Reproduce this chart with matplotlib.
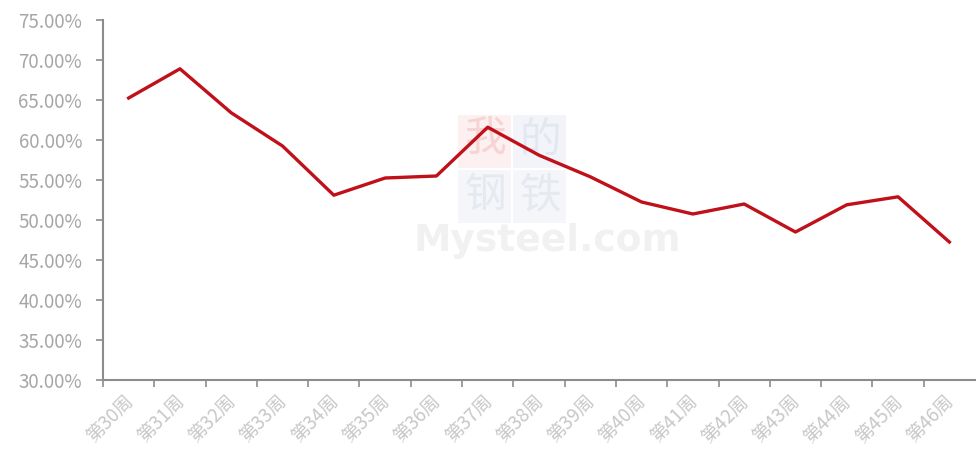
import matplotlib
matplotlib.use("Agg")
import matplotlib.pyplot as plt
import numpy as np
from matplotlib.ticker import FixedLocator, PercentFormatter
from matplotlib.patches import Rectangle
from matplotlib.transforms import ScaledTranslation

plt.rcParams['font.family'] = ['Noto Sans CJK SC', 'DejaVu Sans']

weeks = ["第30周", "第31周", "第32周", "第33周", "第34周", "第35周", "第36周", "第37周", "第38周",
         "第39周", "第40周", "第41周", "第42周", "第43周", "第44周", "第45周", "第46周"]
values = [65.25, 68.9, 63.4, 59.25, 53.1, 55.25, 55.5, 61.6, 58.1,
          55.4, 52.25, 50.75, 52.0, 48.5, 51.9, 52.9, 47.25]
yticks = [30, 35, 40, 45, 50, 55, 60, 65, 70, 75]

fig = plt.figure(figsize=(9.76, 4.61), dpi=100)
ax = fig.add_axes([103/976, 81/461, 872/976, 360/461])

x = np.arange(len(weeks))
ax.plot(x, values, color='#C0101A', lw=2.4, solid_joinstyle='round', zorder=3)

# watermark
sw, sh = 55/872, 55/360
x0, y0 = (458-103)/872, (380-223)/360
chars = [("我", 0, 1, '#fcf0f0', '#f6d4d4'), ("的", 1, 1, '#f2f4f9', '#e3e8f0'),
         ("钢", 0, 0, '#f4f6fa', '#e5e9f0'), ("铁", 1, 0, '#f4f6fa', '#e5e9f0')]
for ch, cx, cy, bg, fg in chars:
    ax.add_patch(Rectangle((x0 + cx*sw, y0 + cy*sh), sw*0.97, sh*0.97, transform=ax.transAxes,
                           facecolor=bg, edgecolor='none', zorder=1))
    ax.text(x0 + (cx+0.5)*sw, y0 + (cy+0.5)*sh, ch, transform=ax.transAxes, ha='center',
            va='center', fontsize=30, color=fg, zorder=1.5)
ax.text(0.509, 0.385, "Mysteel.com", transform=ax.transAxes, ha='center', va='center',
        fontsize=27, color='#f1f1f1', fontweight='bold', zorder=1, family='DejaVu Sans')

ax.set_xlim(-0.5, len(weeks) - 0.5)
ax.set_ylim(30, 75)
ax.set_yticks(yticks)
ax.yaxis.set_major_formatter(PercentFormatter(decimals=2))

ax.xaxis.set_major_locator(FixedLocator(np.arange(-0.5, len(weeks) - 0.5, 1.0)))
ax.set_xticklabels([])
ax.set_xticks(x, minor=True)
ax.set_xticklabels(weeks, minor=True, rotation=45, ha='right', rotation_mode='anchor',
                   fontsize=13.5, color='#c8c8c8')
ax.tick_params(axis='x', which='minor', length=0, pad=8)
ax.tick_params(axis='x', which='major', length=5, width=1.2, color='#8c8c8c', direction='out')
ax.tick_params(axis='y', length=5, width=1.2, color='#8c8c8c', direction='out',
               labelsize=13.5, labelcolor='#a6a6a6', pad=10)
offset = ScaledTranslation(-6/100, 0, fig.dpi_scale_trans)
for lbl in ax.get_xticklabels(minor=True):
    lbl.set_transform(lbl.get_transform() + offset)

for s in ['top', 'right']:
    ax.spines[s].set_visible(False)
for s in ['left', 'bottom']:
    ax.spines[s].set_color('#8c8c8c')
    ax.spines[s].set_linewidth(1.5)

fig.savefig("out.png", dpi=100)
